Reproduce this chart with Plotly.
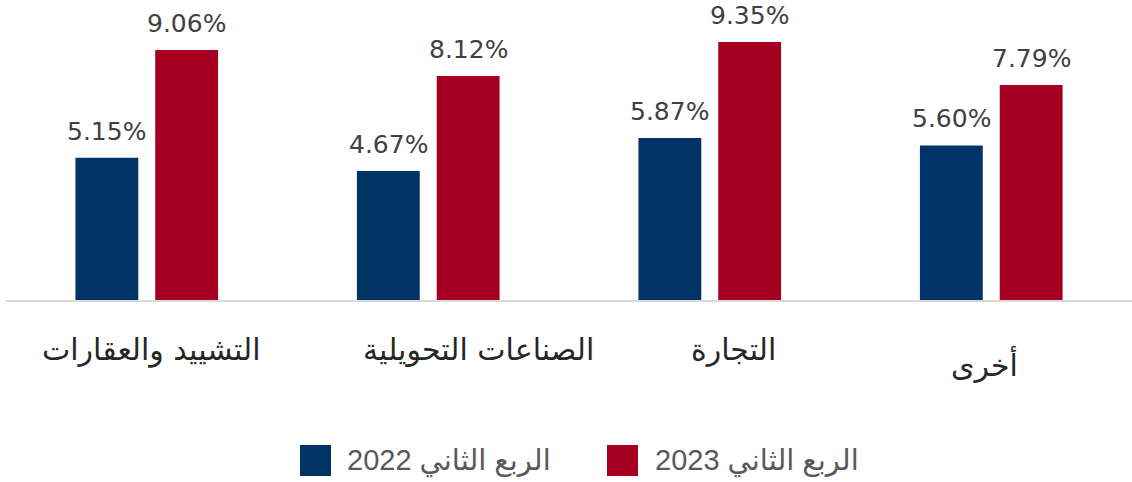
import plotly.graph_objects as go

categories = ["التشييد والعقارات", "الصناعات التحويلية", "التجارة", "أخرى"]
q2_2022 = [5.15, 4.67, 5.87, 5.60]
q2_2023 = [9.06, 8.12, 9.35, 7.79]
series_names = ["الربع الثاني 2022", "الربع الثاني 2023"]
colors = ["#003466", "#A50021"]

# per-label pixel nudges of the category captions (style only)
label_dx = [5, 50, 24, -7]
label_dy = [0, 0, 0, 13]

W, H = 1132, 482
ml, mr, mt, mb = 6, 0, 24, 182
pw, ph = W - ml - mr, H - mt - mb
bargap, bargroupgap = 0.433, 0.2125


def px_x(p):
    return (p - ml) / pw


def px_y(p):
    return (H - mb - p) / ph


fig = go.Figure()
series = [q2_2022, q2_2023]
for name, vals, c in zip(series_names, series, colors):
    fig.add_trace(go.Bar(
        x=categories, y=vals, name=name,
        marker=dict(color=c, line=dict(width=0)),
        showlegend=False, hoverinfo="skip",
    ))

# value labels above each bar (placed via the axis scales)
slot = pw / len(categories) * (1 - bargap) / len(series)
annotations = []
for i, vals in enumerate(series):
    shift = (i - (len(series) - 1) / 2) * slot
    for cat, v in zip(categories, vals):
        annotations.append(dict(x=cat, y=v, xref="x", yref="y", xshift=shift, yshift=10,
                                xanchor="center", yanchor="bottom", showarrow=False,
                                text=f"{v:.2f}%",
                                font=dict(family="DejaVu Sans", size=25, color="#404040")))

# category captions under the axis
for cat, dx, dy in zip(categories, label_dx, label_dy):
    annotations.append(dict(x=cat, y=0, xref="x", yref="y", xshift=dx, yshift=-30 - dy,
                            xanchor="center", yanchor="top", showarrow=False,
                            text=cat,
                            font=dict(family="DejaVu Sans", size=30, color="#262626")))

# manual legend (large square swatches)
legend_pos = [(300, 345), (607, 653)]
shapes = []
for (sq_x, tx_x), name, c in zip(legend_pos, series_names, colors):
    shapes.append(dict(type="rect", xref="paper", yref="paper",
                       x0=px_x(sq_x), x1=px_x(sq_x + 31),
                       y0=px_y(476), y1=px_y(445),
                       fillcolor=c, line=dict(width=0)))
    annotations.append(dict(xref="paper", yref="paper", x=px_x(tx_x), y=px_y(461),
                            xanchor="left", yanchor="middle", showarrow=False,
                            text="\u202B" + name + "\u202C",
                            font=dict(family="Liberation Sans, DejaVu Sans", size=29, color="#595959")))

fig.update_layout(
    width=W, height=H,
    margin=dict(l=ml, r=mr, t=mt, b=mb),
    paper_bgcolor="white", plot_bgcolor="white",
    barmode="group", bargap=bargap, bargroupgap=bargroupgap,
    shapes=shapes, annotations=annotations,
    showlegend=False,
)
fig.update_xaxes(type="category", categoryorder="array", categoryarray=categories,
                 showline=True, linecolor="#d9d9d9", linewidth=2,
                 showticklabels=False, ticks="",
                 showgrid=False, zeroline=False)
fig.update_yaxes(range=[0, 10], visible=False, showgrid=False, zeroline=False)

fig.write_html("out.html", config={"displayModeBar": False},
               post_script="document.body.style.margin='0';")
